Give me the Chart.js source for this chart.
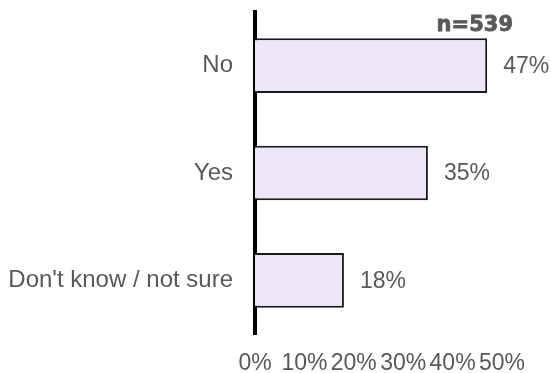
<!DOCTYPE html>
<html>
<head>
<meta charset="utf-8">
<script src="https://cdn.jsdelivr.net/npm/chart.js@4.4.1/dist/chart.umd.min.js"></script>
<style>
  html, body { margin: 0; padding: 0; background: #fff; }
  #wrap { width: 551px; height: 373px; position: relative; }
</style>
</head>
<body>
<div id="wrap"><canvas id="myChart" width="551" height="373"></canvas></div>
<script>
// answers and share of respondents (%)
var categories = ['No', 'Yes', "Don't know / not sure"];
var values = [47, 35, 18];
var tickValues = [0, 10, 20, 30, 40, 50];
var sampleLabel = 'n=539';

var textGray = '#595959';
var fontFamily = "'Liberation Sans', Arial, sans-serif";

// percent labels at the end of each bar + sample size at top right
const barLabels = {
  id: 'barLabels',
  afterDatasetsDraw(chart) {
    const ctx = chart.ctx;
    const meta = chart.getDatasetMeta(0);
    ctx.save();
    ctx.fillStyle = textGray;
    ctx.font = '23px ' + fontFamily;
    ctx.textAlign = 'left';
    ctx.textBaseline = 'middle';
    meta.data.forEach((bar, i) => {
      ctx.fillText(values[i] + '%', bar.x + 16, bar.y + 1);
    });
    ctx.font = 'bold 21px "DejaVu Sans", sans-serif';
    ctx.textAlign = 'right';
    ctx.strokeStyle = textGray;
    ctx.lineWidth = 0.8;
    ctx.fillText(sampleLabel, 513, 26);
    ctx.strokeText(sampleLabel, 513, 26);
    ctx.restore();
  }
};

var ctx = document.getElementById('myChart').getContext('2d');
var myChart = new Chart(ctx, {
  type: 'bar',
  data: {
    labels: categories,
    datasets: [{
      data: values,
      backgroundColor: '#ECE6F7',
      borderColor: '#1a1a1a',
      borderWidth: 2,
      borderSkipped: 'left',
      barPercentage: 0.51,
      categoryPercentage: 1
    }]
  },
  options: {
    indexAxis: 'y',
    responsive: false,
    animation: false,
    layout: { padding: { top: 12, right: 49, left: 0, bottom: 0 } },
    plugins: { legend: { display: false }, tooltip: { enabled: false } },
    scales: {
      x: {
        min: 0,
        max: 50,
        afterBuildTicks(scale) {
          scale.ticks = tickValues.map(v => ({ value: v }));
        },
        afterFit(scale) {
          scale.height = 39;
          scale.paddingLeft = 0;
          scale.paddingRight = 0;
        },
        grid: { display: false, drawTicks: false },
        border: { display: false },
        ticks: {
          color: textGray,
          font: { family: fontFamily, size: 23 },
          padding: 16,
          maxRotation: 0,
          autoSkip: false,
          callback: v => v + '%'
        }
      },
      y: {
        afterFit(scale) {
          scale.width = 255;
          scale.paddingTop = 0;
          scale.paddingBottom = 0;
        },
        grid: { display: false, drawTicks: false },
        border: { display: true, color: '#000', width: 4 },
        ticks: {
          color: textGray,
          font: { family: fontFamily, size: 24 },
          padding: 22
        }
      }
    }
  },
  plugins: [barLabels]
});
</script>
</body>
</html>
